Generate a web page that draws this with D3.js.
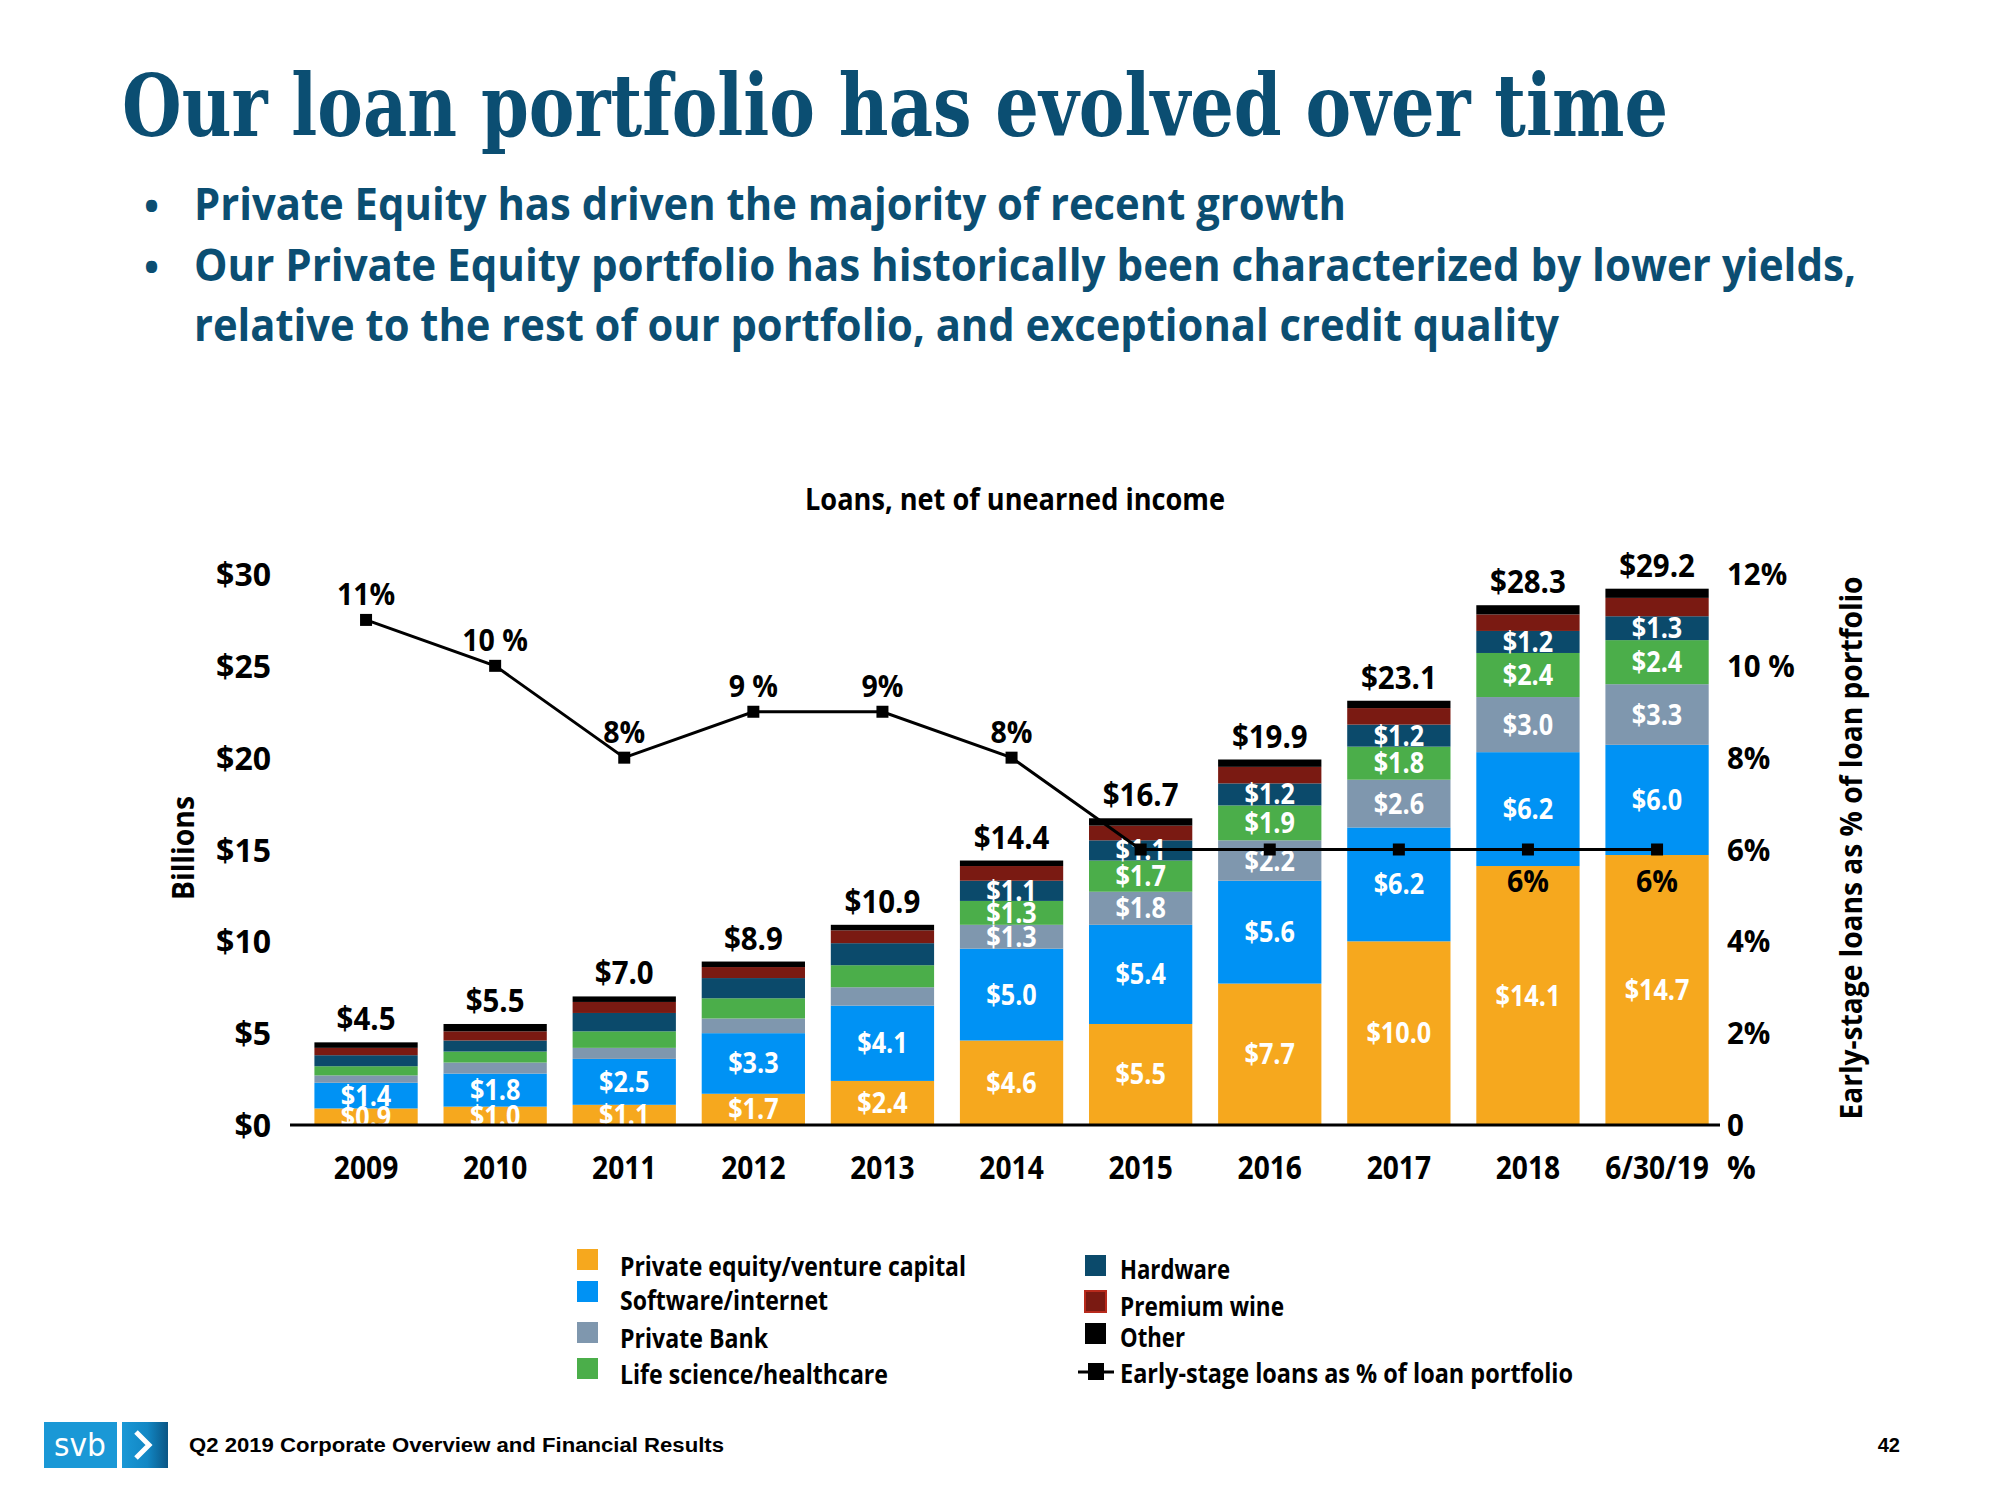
<!DOCTYPE html>
<html>
<head>
<meta charset="utf-8">
<script src="https://cdn.jsdelivr.net/npm/d3@7"></script>
<style>
  html, body { margin: 0; padding: 0; background: #fff; }
  svg { display: block; }
  text { font-family: "Open Sans", "Noto Sans", sans-serif; font-weight: 700; }
</style>
</head>
<body>
<svg id="chart" width="2000" height="1500"></svg>
<script>
// ---------------- DATA ----------------
const years = ["2009","2010","2011","2012","2013","2014","2015","2016","2017","2018","6/30/19"];
const privateEquity = [0.9, 1.0, 1.1, 1.7, 2.4, 4.6, 5.5, 7.7, 10.0, 14.1, 14.7];
const software      = [1.4, 1.8, 2.5, 3.3, 4.1, 5.0, 5.4, 5.6, 6.2, 6.2, 6.0];
const privateBank   = [0.4, 0.6, 0.6, 0.8, 1.0, 1.3, 1.8, 2.2, 2.6, 3.0, 3.3];
const lifeScience   = [0.5, 0.6, 0.9, 1.1, 1.2, 1.3, 1.7, 1.9, 1.8, 2.4, 2.4];
const hardware      = [0.6, 0.6, 1.0, 1.1, 1.2, 1.1, 1.1, 1.2, 1.2, 1.2, 1.3];
const premiumWine   = [0.4, 0.5, 0.6, 0.6, 0.7, 0.8, 0.8, 0.9, 0.9, 0.9, 1.0];
const other         = [0.3, 0.4, 0.3, 0.3, 0.3, 0.3, 0.4, 0.4, 0.4, 0.5, 0.5];
const totals        = [4.5, 5.5, 7.0, 8.9, 10.9, 14.4, 16.7, 19.9, 23.1, 28.3, 29.2];
const totalLabels   = ["$4.5","$5.5","$7.0","$8.9","$10.9","$14.4","$16.7","$19.9","$23.1","$28.3","$29.2"];
const earlyStage    = [11, 10, 8, 9, 9, 8, 6, 6, 6, 6, 6];
const earlyLabels   = ["11%","10 %","8%","9 %","9%","8%","","","","6%","6%"];
const leftTicks     = [0, 5, 10, 15, 20, 25, 30];
const leftTickLabels = ["$0","$5","$10","$15","$20","$25","$30"];
const rightTicks    = [0, 2, 4, 6, 8, 10, 12];
const rightTickLabels = ["0","2%","4%","6%","8%","10 %","12%"];
const seriesKeys    = ["pe","sw","pb","ls","hw","wine","other"];
const seriesNames   = ["Private equity/venture capital","Software/internet","Private Bank","Life science/healthcare","Hardware","Premium wine","Other"];
const seriesValues  = [privateEquity, software, privateBank, lifeScience, hardware, premiumWine, other];
const labelFromYear = ["2009","2009","2014","2014","2014",null,null]; // segments carrying value labels
const lineName      = "Early-stage loans as % of loan portfolio";

// ---------------- STYLE ----------------
const colors = {pe:"#f6a81e", sw:"#0092f4", pb:"#7f97ae", ls:"#4bae4a", hw:"#0b4a6b", wine:"#7a1a12", other:"#000000"};
const navy = "#0b4e72";

const svg = d3.select("#chart");

function fitWidth(sel, w) {
  sel.attr("textLength", w).attr("lengthAdjust", "spacingAndGlyphs");
}
function condense(sel, f) {
  sel.each(function() {
    const w = this.getComputedTextLength();
    d3.select(this).attr("textLength", w * f).attr("lengthAdjust", "spacingAndGlyphs");
  });
}

// ---------------- HEADER ----------------
svg.append("text").attr("x", 122).attr("y", 136)
  .style("font-family", "'DejaVu Serif', serif").style("font-size", "86px")
  .attr("fill", navy).text("Our loan portfolio has evolved over time")
  .call(fitWidth, 1546);

const bullets = [
  {t: "Private Equity has driven the majority of recent growth", y: 220, w: 1152, b: true},
  {t: "Our Private Equity portfolio has historically been characterized by lower yields,", y: 281, w: 1662, b: true},
  {t: "relative to the rest of our portfolio, and exceptional credit quality", y: 341, w: 1365, b: false}
];
bullets.forEach(d => {
  if (d.b) svg.append("text").attr("x", 144).attr("y", d.y).style("font-size", "40px")
    .attr("fill", navy).text("•");
  svg.append("text").attr("x", 194).attr("y", d.y).style("font-size", "44px")
    .attr("fill", navy).text(d.t).call(fitWidth, d.w);
});

// ---------------- CHART ----------------
const x = d3.scaleBand().domain(years).range([301.5, 1721.6]).paddingInner(0.2).paddingOuter(0.1);
const y = d3.scaleLinear().domain([0, 30]).range([1125, 574]);
const y2 = d3.scaleLinear().domain([0, 12]).range([1125, 574]);

svg.append("text").attr("x", 1015).attr("y", 510).attr("text-anchor", "middle")
  .style("font-size", "30px").attr("fill", "#000").text("Loans, net of unearned income")
  .call(fitWidth, 420);

const rows = years.map((yr, i) => {
  const o = {year: yr};
  seriesKeys.forEach((k, j) => o[k] = seriesValues[j][i]);
  return o;
});
const stacked = d3.stack().keys(seriesKeys)(rows);

const gBars = svg.append("g");
stacked.forEach((layer, j) => {
  const key = seriesKeys[j];
  gBars.selectAll(null).data(layer).enter().append("rect")
    .attr("x", d => x(d.data.year))
    .attr("width", x.bandwidth())
    .attr("y", d => y(d[1]))
    .attr("height", d => y(d[0]) - y(d[1]))
    .attr("fill", colors[key]);
});

// segment value labels
const gSegLabels = svg.append("g");
stacked.forEach((layer, j) => {
  const from = labelFromYear[j];
  if (from === null) return;
  const startIdx = years.indexOf(from);
  gSegLabels.selectAll(null).data(layer.filter((d, i) => i >= startIdx)).enter().append("text")
    .attr("x", d => x(d.data.year) + x.bandwidth() / 2)
    .attr("y", d => (y(d[0]) + y(d[1])) / 2 + 10)
    .attr("text-anchor", "middle")
    .style("font-size", "28px").attr("fill", "#fff")
    .text(d => "$" + (d[1] - d[0]).toFixed(1))
    .call(condense, 0.9);
});

// white out anything below baseline
svg.append("rect").attr("x", 290).attr("y", y(0) + 1).attr("width", 1440).attr("height", 30).attr("fill", "#fff");

// baseline
svg.append("line").attr("x1", 290).attr("x2", 1720).attr("y1", y(0)).attr("y2", y(0))
  .attr("stroke", "#000").attr("stroke-width", 3);

// totals
svg.append("g").selectAll("text").data(years).enter().append("text")
  .attr("x", d => x(d) + x.bandwidth() / 2)
  .attr("y", (d, i) => y(totals[i]) - 12)
  .attr("text-anchor", "middle").style("font-size", "32px").attr("fill", "#000")
  .text((d, i) => totalLabels[i]).call(condense, 0.92);

// left axis labels
svg.append("g").selectAll("text").data(leftTicks).enter().append("text")
  .attr("x", 271).attr("y", d => y(d) + 12).attr("text-anchor", "end")
  .style("font-size", "33px").attr("fill", "#000")
  .text((d, i) => leftTickLabels[i]).call(condense, 0.97);

// right axis labels
svg.append("g").selectAll("text").data(rightTicks).enter().append("text")
  .attr("x", 1727).attr("y", d => y2(d) + 11).attr("text-anchor", "start")
  .style("font-size", "31px").attr("fill", "#000")
  .text((d, i) => rightTickLabels[i]).call(condense, 0.95);

// x labels
svg.append("g").selectAll("text").data(years).enter().append("text")
  .attr("x", d => x(d) + x.bandwidth() / 2).attr("y", 1179).attr("text-anchor", "middle")
  .style("font-size", "32px").attr("fill", "#000").text(d => d).call(condense, 0.88);
svg.append("text").attr("x", 1727).attr("y", 1179).style("font-size", "32px").attr("fill", "#000").text("%");

// axis titles
svg.append("text").attr("transform", "translate(194,848) rotate(-90)").attr("text-anchor", "middle")
  .style("font-size", "30px").attr("fill", "#000").text("Billions").call(fitWidth, 104);
svg.append("text").attr("transform", "translate(1862,848) rotate(-90)").attr("text-anchor", "middle")
  .style("font-size", "30px").attr("fill", "#000").text(lineName).call(fitWidth, 543);

// early-stage line
const line = d3.line().x((d, i) => x(years[i]) + x.bandwidth() / 2).y(d => y2(d));
svg.append("path").datum(earlyStage).attr("d", line).attr("fill", "none")
  .attr("stroke", "#000").attr("stroke-width", 3);
svg.append("g").selectAll("rect").data(earlyStage).enter().append("rect")
  .attr("x", (d, i) => x(years[i]) + x.bandwidth() / 2 - 6)
  .attr("y", d => y2(d) - 6).attr("width", 12).attr("height", 12).attr("fill", "#000");
svg.append("g").selectAll("text").data(earlyStage).enter().append("text")
  .attr("x", (d, i) => x(years[i]) + x.bandwidth() / 2)
  .attr("y", (d, i) => i >= 9 ? y2(d) + 42 : y2(d) - 15)
  .attr("text-anchor", "middle").style("font-size", "31px").attr("fill", "#000")
  .text((d, i) => earlyLabels[i]).call(condense, 0.92);

// ---------------- LEGEND ----------------
const legendLeft = [
  {k: 0, sy: 1249, ty: 1276, w: 346},
  {k: 1, sy: 1281, ty: 1310, w: 208},
  {k: 2, sy: 1322, ty: 1348, w: 148},
  {k: 3, sy: 1358, ty: 1384, w: 268}
];
const legendRight = [
  {k: 4, sy: 1255, ty: 1279, w: 110},
  {k: 5, sy: 1291, ty: 1316, w: 164},
  {k: 6, sy: 1323, ty: 1347, w: 65}
];
const gLeg = svg.append("g");
legendLeft.forEach(d => {
  gLeg.append("rect").attr("x", 577).attr("y", d.sy).attr("width", 21).attr("height", 21).attr("fill", colors[seriesKeys[d.k]]);
  gLeg.append("text").attr("x", 620).attr("y", d.ty).style("font-size", "26px").attr("fill", "#000")
    .text(seriesNames[d.k]).call(fitWidth, d.w);
});
legendRight.forEach(d => {
  gLeg.append("rect").attr("x", 1085).attr("y", d.sy).attr("width", 21).attr("height", 21)
    .attr("fill", colors[seriesKeys[d.k]])
    .attr("stroke", seriesKeys[d.k] === "wine" ? "#b82a1c" : "none").attr("stroke-width", 2);
  gLeg.append("text").attr("x", 1120).attr("y", d.ty).style("font-size", "26px").attr("fill", "#000")
    .text(seriesNames[d.k]).call(fitWidth, d.w);
});
gLeg.append("line").attr("x1", 1078).attr("x2", 1114).attr("y1", 1372).attr("y2", 1372).attr("stroke", "#000").attr("stroke-width", 3);
gLeg.append("rect").attr("x", 1088).attr("y", 1363).attr("width", 16).attr("height", 17).attr("fill", "#000");
gLeg.append("text").attr("x", 1120).attr("y", 1383).style("font-size", "26px").attr("fill", "#000")
  .text(lineName).call(fitWidth, 453);

// ---------------- FOOTER ----------------
const defs = svg.append("defs");
const grad = defs.append("linearGradient").attr("id", "chev").attr("x1", "0").attr("x2", "1").attr("y1", "0").attr("y2", "0");
grad.append("stop").attr("offset", "0%").attr("stop-color", "#1a98d6");
grad.append("stop").attr("offset", "55%").attr("stop-color", "#1287c4");
grad.append("stop").attr("offset", "100%").attr("stop-color", "#0a5584");
svg.append("rect").attr("x", 44).attr("y", 1422).attr("width", 73).attr("height", 46).attr("fill", "#1a98d6");
svg.append("rect").attr("x", 122).attr("y", 1422).attr("width", 46).attr("height", 46).attr("fill", "url(#chev)");
svg.append("text").attr("x", 80).attr("y", 1456).attr("text-anchor", "middle")
  .style("font-family", "'DejaVu Sans', sans-serif").style("font-weight", "400").style("font-size", "32px")
  .attr("fill", "#fff").text("svb").call(fitWidth, 52);
svg.append("path").attr("d", "M136,1432 L149,1445 L136,1458").attr("fill", "none")
  .attr("stroke", "#fff").attr("stroke-width", 5).attr("stroke-linejoin", "miter");
svg.append("text").attr("x", 189).attr("y", 1452)
  .style("font-family", "'Liberation Sans', Arial, sans-serif").style("font-size", "20px")
  .attr("fill", "#000").text("Q2 2019 Corporate Overview and Financial Results").call(fitWidth, 535);
svg.append("text").attr("x", 1900).attr("y", 1452).attr("text-anchor", "end")
  .style("font-family", "'Liberation Sans', Arial, sans-serif").style("font-size", "20px")
  .attr("fill", "#000").text("42");
</script>
</body>
</html>
